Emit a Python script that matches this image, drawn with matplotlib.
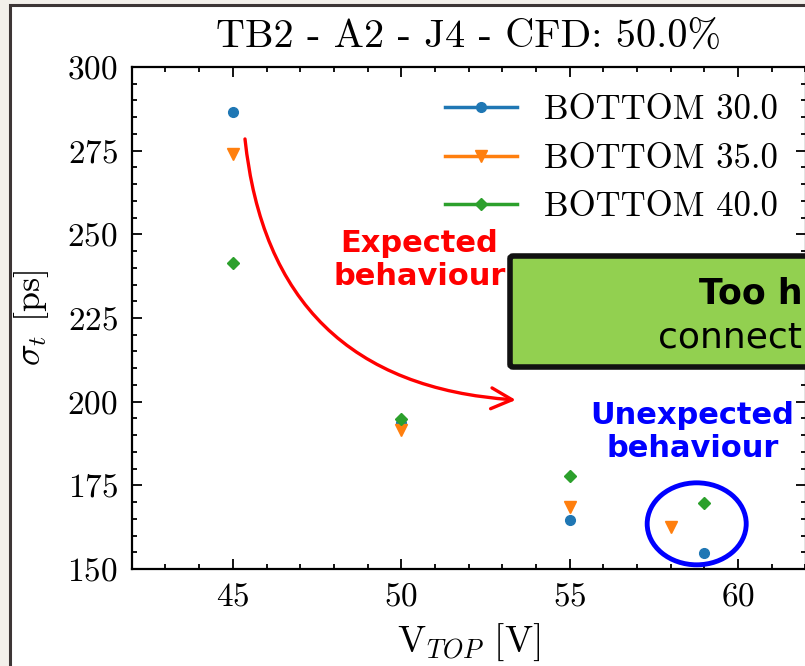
import matplotlib
matplotlib.use("Agg")
import matplotlib.pyplot as plt
from matplotlib.lines import Line2D
from matplotlib.patches import Rectangle, Ellipse, FancyBboxPatch
from matplotlib.ticker import MultipleLocator

# ---- data ----
series_labels = ["BOTTOM 30.0", "BOTTOM 35.0", "BOTTOM 40.0"]
v_top_30 = [45, 50, 55, 59]
sigma_30 = [286.5, 193.5, 164.6, 154.8]
v_top_35 = [45, 50, 55, 58]
sigma_35 = [274.0, 191.5, 168.5, 162.6]
v_top_40 = [45, 50, 55, 59]
sigma_40 = [241.3, 194.8, 177.8, 169.7]

title = "TB2 - A2 - J4 - CFD: 50.0%"
xticks = [45, 50, 55, 60]
yticks = [150, 175, 200, 225, 250, 275, 300]

plt.rcParams['font.family'] = 'cmr10'
plt.rcParams['mathtext.fontset'] = 'cm'
plt.rcParams['axes.formatter.use_mathtext'] = True

W, H = 805, 666
fig = plt.figure(figsize=(W / 100, H / 100), dpi=100, facecolor='#f3f0eb')

def fx(px):
    return px / W

def fy(py):
    return 1 - py / H

# slide frame
frame = Rectangle((fx(9.5), -0.05), 1.2, fy(5.5) + 0.05, transform=fig.transFigure,
                  facecolor='white', edgecolor='#3d3636', lw=2.2, zorder=-5)
fig.patches.append(frame)

ax = fig.add_axes([fx(131.8), fy(569), fx(805.5) - fx(131.8), fy(67) - fy(569)])
ax.set_facecolor('white')

colors = ['#1f77b4', '#ff7f0e', '#2ca02c']
markers = ['o', 'v', 'D']
msizes = [7, 8, 6.5]
xs = [v_top_30, v_top_35, v_top_40]
ys = [sigma_30, sigma_35, sigma_40]
for x, y, c, m, ms in zip(xs, ys, colors, markers, msizes):
    ax.plot(x, y, ls='none', marker=m, color=c, ms=ms, zorder=3)

ax.set_xlim(42, 62)
ax.set_ylim(150, 300)
ax.set_xticks(xticks)
ax.set_yticks(yticks)
ax.xaxis.set_minor_locator(MultipleLocator(1))
ax.yaxis.set_minor_locator(MultipleLocator(5))
ax.tick_params(which='both', direction='in', top=True, right=True, labelsize=24,
               width=1.3)
ax.tick_params(which='major', length=7, pad=10)
ax.tick_params(which='minor', length=3.5)
for s in ax.spines.values():
    s.set_linewidth(1.6)

ax.set_title(title, fontsize=29, pad=14)
ax.set_xlabel(r'V$_{TOP}$ [V]', fontsize=27, labelpad=7)
ax.set_ylabel(r'$\sigma_t$ [ps]', fontsize=26, labelpad=12)

handles = [Line2D([], [], color=c, marker=m, ms=ms, lw=2.5)
           for c, m, ms in zip(colors, markers, msizes)]
ax.legend(handles, series_labels, loc='upper right', frameon=False, fontsize=25,
          handlelength=2.07, handletextpad=0.78, labelspacing=0.48,
          borderaxespad=0.4)

ann_font = 'DejaVu Sans'

# red curved arrow
ax.annotate('', xy=(53.4, 200.5), xytext=(45.36, 278.5),
            arrowprops=dict(arrowstyle='->,head_length=0.6,head_width=0.3',
                            color='red', lw=2.4, mutation_scale=25,
                            connectionstyle='arc3,rad=0.42', shrinkA=0, shrinkB=0),
            annotation_clip=False)
ax.text(50.54, 242.3, 'Expected\nbehaviour', color='red', fontsize=22,
        fontweight='bold', family=ann_font, ha='center', va='center',
        linespacing=1.15)

# blue ellipse + text
ax.add_patch(Ellipse((58.77, 163.5), 2.94, 24.5, fill=False, ec='blue', lw=3.5,
                     clip_on=False, zorder=4))
ax.text(58.64, 191.0, 'Unexpected\nbehaviour', color='blue', fontsize=22,
        fontweight='bold', family=ann_font, ha='center', va='center',
        linespacing=1.15)

# green box (cut by the right edge)
box = FancyBboxPatch((fx(510), fy(367)), 0.5, fy(256) - fy(367),
                     boxstyle='round,pad=0,rounding_size=0.004',
                     transform=fig.transFigure, facecolor='#92d050',
                     edgecolor='#111111', lw=4, zorder=10)
fig.patches.append(box)
fig.text(fx(699), fy(303), 'Too h', fontsize=25, fontweight='bold',
         family=ann_font, va='baseline', ha='left', zorder=11)
fig.text(fx(658), fy(347), 'connect', fontsize=26, family=ann_font,
         va='baseline', ha='left', zorder=11)

fig.savefig('out.png', dpi=100, facecolor=fig.get_facecolor())
